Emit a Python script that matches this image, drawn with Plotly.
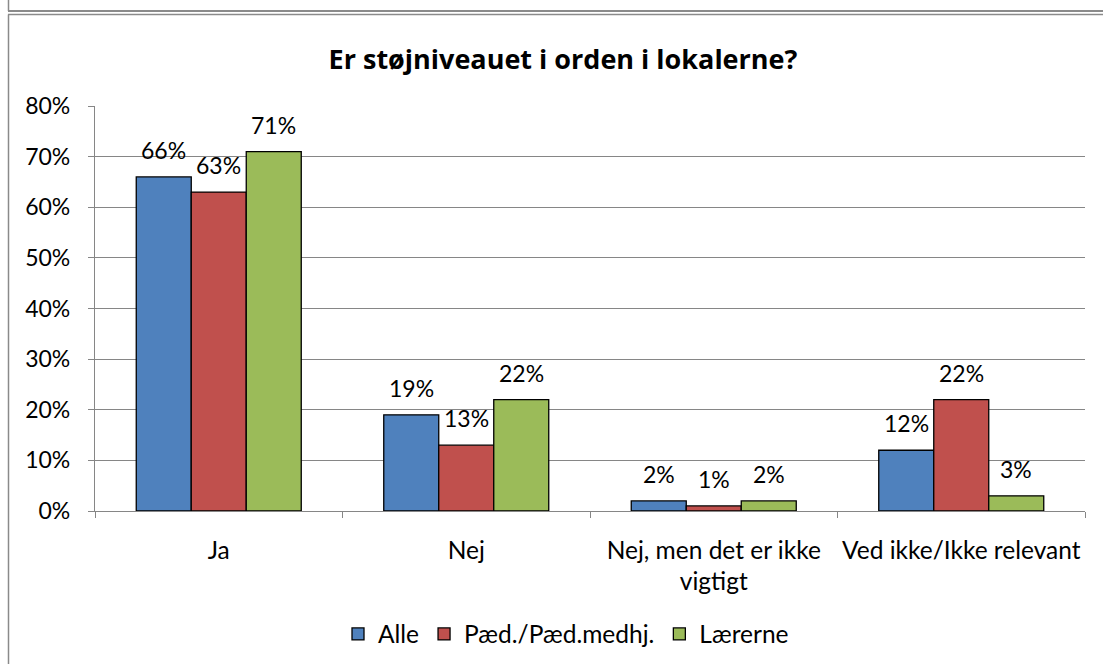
import plotly.graph_objects as go

categories = ["Ja", "Nej", "Nej, men det er ikke<br>vigtigt", "Ved ikke/Ikke relevant"]
series_names = ["Alle", "Pæd./Pæd.medhj.", "Lærerne"]
alle = [0.66, 0.19, 0.02, 0.12]
paed = [0.63, 0.13, 0.01, 0.22]
laerer = [0.71, 0.22, 0.02, 0.03]
colors = ["#4F81BD", "#C0504D", "#9BBB59"]
title_text = "Er støjniveauet i orden i lokalerne?"

W, H = 1103, 664
L, R, T, B = 95, 1085, 106, 511
FONT = "Lato, Carlito, Calibri, sans-serif"
FS = 23
FS_TXT = 24.5

fig = go.Figure()
annotations = []
bar_px = (R - L) / len(categories) * (2 / 3) / 3
for i, (name, vals, col) in enumerate(zip(series_names, [alle, paed, laerer], colors)):
    fig.add_trace(go.Bar(
        x=categories, y=vals, name=name,
        marker=dict(color=col, line=dict(color="black", width=1.3)),
        cliponaxis=False,
    ))
    for c, v in zip(categories, vals):
        annotations.append(dict(
            x=c, y=v, xref="x", yref="y", text=f"{round(v * 100)}%",
            showarrow=False, xshift=(i - 1) * bar_px, yshift=27,
            yanchor="middle", xanchor="center",
            font=dict(size=FS, color="black", family=FONT)))

def px(x):
    return (x - L) / (R - L)

def py(y):
    return (B - y) / (B - T)

frame = "#8A8A8A"
shapes = [
    dict(type="line", xref="paper", yref="paper", x0=px(8), x1=px(1103), y0=py(11), y1=py(11), line=dict(color=frame, width=2)),
    dict(type="line", xref="paper", yref="paper", x0=px(8), x1=px(1103), y0=py(14.5), y1=py(14.5), line=dict(color=frame, width=1.5)),
    dict(type="line", xref="paper", yref="paper", x0=px(8.5), x1=px(8.5), y0=py(0), y1=py(11), line=dict(color=frame, width=1.5)),
    dict(type="line", xref="paper", yref="paper", x0=px(8.5), x1=px(8.5), y0=py(14.5), y1=py(664), line=dict(color=frame, width=1.5)),
]

fig.update_layout(
    width=W, height=H,
    margin=dict(l=L, r=W - R, t=T, b=H - B, autoexpand=False),
    paper_bgcolor="white", plot_bgcolor="white",
    font=dict(family=FONT, size=FS, color="black"),
    title=dict(text="<b>" + title_text + "</b>", x=px(563), xanchor="center",
               xref="paper", y=1 - 60 / H, yref="container", yanchor="middle",
               font=dict(size=27, family="Open Sans, sans-serif", color="black")),
    barmode="group", bargap=1/3, bargroupgap=0,
    showlegend=True,
    legend=dict(orientation="h", x=px(566), xanchor="center", xref="paper",
                y=(H - 634) / H, yref="container", yanchor="middle",
                font=dict(size=FS_TXT, family=FONT), itemwidth=30, traceorder="normal"),
    shapes=shapes,
    annotations=annotations,
    xaxis=dict(showgrid=False, showline=True, linecolor="#868686", linewidth=1.3,
               ticks="outside", tickson="boundaries", ticklen=6, tickcolor="#868686",
               tickfont=dict(size=FS_TXT, family=FONT), ticklabelstandoff=17,
               tickangle=0, automargin=False),
    yaxis=dict(range=[0, 0.8], dtick=0.1, tickformat=".0%", showgrid=True,
               gridcolor="#868686", gridwidth=1.3, showline=True, linecolor="#868686",
               linewidth=1.3, ticks="outside", ticklen=6, tickcolor="#868686",
               zeroline=False, tickfont=dict(size=FS, family=FONT), ticklabelstandoff=13,
               automargin=False),
)

fig.write_html("out.html", post_script="document.body.style.margin='0';",
               config={"displayModeBar": False})
